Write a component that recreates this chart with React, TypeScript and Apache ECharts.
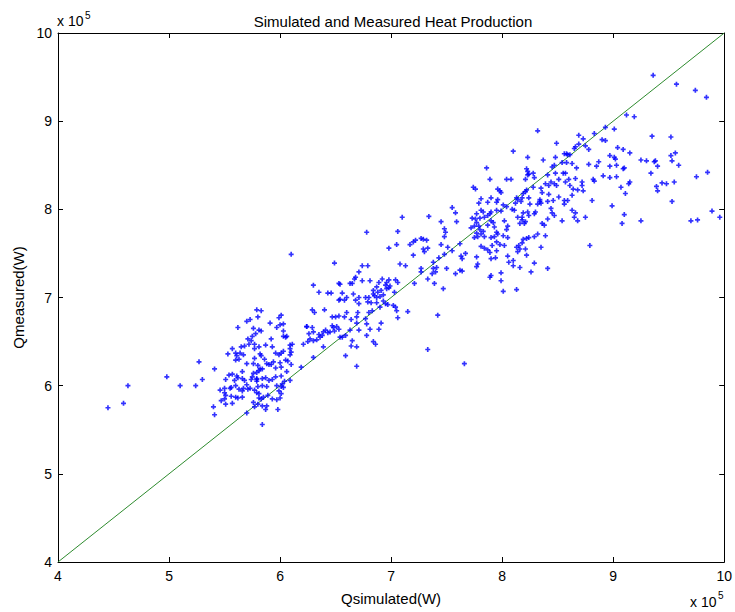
import React, { useEffect, useRef } from "react";
import * as echarts from "echarts";

// Values in units of 1e5 W: [Qsimulated, Qmeasured]
const lowCluster: number[][] = [
  [4.45,5.75],[4.59,5.80],[4.63,6.00],[4.98,6.10],[5.10,6.00],[5.24,6.00],[5.27,6.27],[5.30,6.07],[5.41,6.19],[5.40,5.76],[5.41,5.67],
  [5.79,6.86],[5.83,6.85],[5.80,6.78],[5.99,6.77],[6.01,6.80],[5.70,6.73],[5.73,6.75],[5.62,6.66],[5.76,6.65],[5.91,6.71],
  [5.97,6.66],[6.00,6.69],[6.03,6.70],[6.24,6.67],[5.81,6.63],[5.83,6.62],[5.78,6.59],[5.75,6.56],[6.03,6.62],[6.03,6.56],
  [6.05,6.55],[6.06,6.56],[5.71,6.53],[5.74,6.51],[5.92,6.53],[5.72,6.47],[5.77,6.47],[5.68,6.45],[5.77,6.42],[5.65,6.44],
  [5.57,6.42],[5.81,6.44],[5.87,6.46],[5.93,6.44],[6.09,6.46],[6.11,6.47],[6.21,6.47],[6.25,6.50],[5.53,6.36],[5.60,6.37],
  [5.64,6.37],[5.61,6.34],[5.67,6.35],[5.82,6.36],[5.83,6.34],[5.96,6.37],[5.99,6.35],[6.03,6.39],[6.01,6.37],[6.09,6.42],
  [6.10,6.38],[6.09,6.35],[5.60,6.29],[5.63,6.30],[5.77,6.31],[5.86,6.30],[5.70,6.25],[5.76,6.25],[5.80,6.23],[5.88,6.25],
  [5.90,6.24],[5.92,6.24],[6.05,6.29],[6.07,6.28],[5.94,6.27],[6.00,6.26],[6.10,6.24],[6.19,6.21],[5.82,6.19],[5.84,6.19],
  [5.81,6.17],[5.79,6.15],[5.66,6.16],[5.76,6.14],[6.01,6.21],[5.96,6.20],[6.06,6.16],[5.57,6.13],[5.61,6.11],[5.54,6.12],
  [5.51,6.07],[5.59,6.06],[5.62,6.09],[5.66,6.08],[5.68,6.06],[5.75,6.10],[5.74,6.07],[5.79,6.08],[5.79,6.07],[5.84,6.08],
  [5.87,6.09],[5.90,6.06],[5.93,6.07],[5.96,6.10],[6.01,6.11],[6.04,6.05],[6.09,6.06],[5.79,6.05],[5.70,6.01],[5.60,6.00],
  [5.56,5.98],[5.67,5.97],[5.71,5.96],[5.73,5.97],[5.80,5.99],[5.84,6.00],[5.88,5.99],[5.97,6.00],[6.01,5.99],[6.02,6.02],
  [5.46,5.95],[5.50,5.97],[5.50,5.92],[5.55,5.97],[5.63,5.96],[5.66,5.94],[5.77,5.95],[5.79,5.92],[5.81,5.91],[5.89,5.89],
  [5.99,5.94],[6.03,5.98],[5.51,5.89],[5.50,5.85],[5.56,5.88],[5.60,5.87],[5.62,5.86],[5.66,5.87],[5.47,5.83],[5.51,5.79],
  [5.57,5.80],[5.76,5.81],[5.81,5.86],[5.83,5.85],[5.85,5.87],[5.93,5.85],[5.97,5.84],[6.00,5.86],[6.01,5.91],[5.77,5.76],
  [5.80,5.79],[5.84,5.77],[5.88,5.77],[5.87,5.73],[5.98,5.73],[5.70,5.69],[5.84,5.56]
];

const midCluster: number[][] = [
  [6.10,7.49],[6.78,7.74],[7.10,7.91],[7.34,7.92],[7.55,8.02],[7.58,7.96],[7.59,7.86],[7.45,7.86],[7.48,7.78],[7.49,7.74],
  [7.48,7.69],[7.06,7.75],[7.05,7.60],[6.98,7.56],[7.17,7.60],[7.20,7.63],[7.22,7.65],[7.27,7.67],[7.29,7.66],[7.32,7.65],
  [7.29,7.55],[7.33,7.56],[7.30,7.52],[7.20,7.48],[7.45,7.60],[7.51,7.57],[7.48,7.49],[7.43,7.45],[7.38,7.40],[7.55,7.53],
  [7.62,7.61],[7.64,7.44],[7.63,7.47],[7.67,7.50],[7.08,7.38],[7.13,7.36],[7.27,7.33],[7.27,7.29],[7.38,7.33],[7.41,7.34],
  [7.40,7.29],[7.37,7.27],[7.33,7.21],[7.50,7.33],[7.58,7.27],[7.62,7.31],[7.64,7.30],[7.21,7.16],[7.39,7.16],[7.47,7.10],
  [6.49,7.39],[6.74,7.36],[6.79,7.36],[6.71,7.29],[6.68,7.23],[6.67,7.21],[6.65,7.16],[6.63,7.16],[6.53,7.16],[6.54,7.15],
  [6.30,7.14],[6.74,7.19],[6.81,7.19],[6.92,7.21],[6.98,7.20],[6.96,7.17],[6.95,7.14],[6.89,7.17],[6.87,7.12],[6.88,7.06],
  [6.91,7.08],[6.84,7.08],[6.84,7.04],[6.85,7.02],[6.87,7.00],[6.90,7.01],[6.93,7.03],[6.96,7.10],[6.98,7.11],[6.99,7.13],
  [7.04,7.20],[7.06,7.17],[7.03,7.06],[6.35,7.06],[6.43,7.05],[6.46,7.05],[6.56,7.05],[6.54,6.98],[6.53,6.97],[6.58,6.97],
  [6.60,7.00],[6.66,7.04],[6.71,7.00],[6.68,6.97],[6.71,6.93],[6.77,7.00],[6.80,7.00],[6.79,6.95],[6.82,6.94],[6.87,6.94],
  [6.93,6.96],[6.95,6.93],[6.97,6.92],[7.02,6.91],[7.04,6.89],[7.05,6.85],[7.15,6.84],[7.06,6.77],[6.90,6.89],[6.83,6.85],
  [6.80,6.83],[6.77,6.76],[6.70,6.83],[6.69,6.78],[6.64,6.75],[6.60,6.83],[6.58,6.78],[6.53,6.79],[6.50,6.78],[6.47,6.78],
  [6.40,6.86],[6.29,6.86],[6.31,6.83],[6.24,6.67],[6.29,6.66],[6.30,6.61],[6.26,6.59],[6.27,6.53],[6.30,6.51],[6.38,6.57],
  [6.39,6.61],[6.41,6.63],[6.43,6.60],[6.45,6.61],[6.35,6.58],[6.36,6.55],[6.33,6.52],[6.47,6.68],[6.48,6.66],[6.51,6.67],
  [6.53,6.64],[6.49,6.62],[6.54,6.55],[6.56,6.55],[6.59,6.57],[6.63,6.63],[6.69,6.71],[6.71,6.63],[6.78,6.70],[6.81,6.64],
  [6.89,6.64],[6.91,6.71],[6.78,6.57],[6.84,6.50],[6.86,6.47],[6.65,6.51],[6.64,6.45],[6.69,6.44],[6.59,6.34],[6.69,6.22],
  [6.39,6.44],[6.30,6.32],[7.42,6.80],[7.33,6.41],[7.66,6.25]
];

const highCluster: number[][] = [
  [8.32,8.89],[8.10,8.66],[8.23,8.59],[8.37,8.56],[8.49,8.75],[8.69,8.84],[8.73,8.80],[8.83,8.86],[8.93,8.93],[8.90,8.79],
  [8.93,8.78],[8.65,8.69],[8.66,8.71],[8.69,8.74],[8.78,8.68],[8.75,8.72],[8.56,8.63],[8.58,8.63],[8.59,8.62],[8.61,8.62],
  [8.48,8.59],[8.54,8.53],[8.47,8.50],[8.45,8.48],[8.58,8.53],[8.63,8.52],[8.41,8.39],[8.48,8.41],[8.55,8.41],[8.57,8.41],
  [8.67,8.47],[8.78,8.51],[8.85,8.49],[8.87,8.54],[8.91,8.38],[8.82,8.34],[8.83,8.32],[8.72,8.31],[8.72,8.27],[8.66,8.35],
  [8.60,8.34],[8.57,8.31],[8.51,8.34],[8.47,8.29],[8.49,8.27],[8.44,8.31],[8.42,8.27],[8.68,8.22],[8.73,8.21],[8.81,8.10],
  [8.63,8.16],[8.59,8.10],[8.56,8.10],[8.56,8.06],[8.51,8.14],[8.36,8.19],[8.35,8.24],[8.28,8.25],[8.22,8.22],[8.19,8.18],
  [8.21,8.20],[8.24,8.40],[8.23,8.39],[8.23,8.43],[8.22,8.46],[8.21,8.34],[8.28,8.41],[8.29,8.36],[8.39,8.29],[8.42,8.17],
  [8.34,8.11],[8.34,8.09],[8.32,8.06],[8.41,8.09],[8.44,8.01],[8.45,7.96],[8.47,7.93],[8.41,7.89],[8.35,8.07],[8.30,7.97],
  [8.29,7.95],[8.24,7.93],[8.23,7.97],[8.19,7.96],[8.18,7.91],[8.21,7.86],[8.20,7.84],[8.18,7.88],[8.16,7.84],[8.14,7.91],
  [8.11,7.99],[8.09,8.00],[8.04,8.03],[8.14,8.11],[8.17,8.09],[8.13,8.13],[8.18,8.13],[8.12,8.07],[8.24,8.13],[8.25,8.06],
  [7.98,8.21],[7.99,8.19],[7.96,8.23],[8.04,8.34],[8.08,8.34],[7.89,8.34],[7.86,8.47],[7.74,8.25],[7.76,8.23],[7.81,8.12],
  [7.79,8.07],[7.90,8.13],[7.87,8.08],[7.96,8.11],[7.95,8.08],[8.01,8.05],[7.99,7.98],[7.95,7.99],[7.90,7.97],[7.89,7.95],
  [7.87,7.93],[7.84,7.91],[7.81,7.99],[7.83,7.97],[7.77,7.95],[7.76,7.89],[7.80,7.90],[7.73,7.90],[7.77,7.85],[7.75,7.81],
  [7.72,7.79],[7.79,7.81],[7.80,7.77],[7.83,7.75],[7.81,7.72],[7.78,7.69],[7.77,7.73],[7.84,7.69],[7.75,7.68],[7.87,7.82],
  [7.90,7.87],[7.92,7.85],[7.93,7.80],[7.95,7.74],[7.96,7.72],[7.93,7.69],[7.90,7.68],[8.02,7.87],[8.05,7.81],[8.04,7.77],
  [8.01,7.70],[8.05,7.68],[7.95,7.63],[7.98,7.60],[8.02,7.59],[7.91,7.59],[7.87,7.54],[7.84,7.56],[7.81,7.58],[7.89,7.51],
  [7.95,7.53],[7.94,7.45],[7.90,7.44],[7.77,7.46],[7.78,7.38],[7.77,7.35],[8.05,7.47],[8.06,7.40],[8.10,7.42],[8.10,7.36],
  [8.15,7.59],[8.16,7.55],[8.14,7.52],[8.18,7.62],[8.19,7.66],[8.22,7.67],[8.24,7.68],[8.29,7.69],[8.32,7.72],[8.36,7.84],
  [8.38,7.82],[8.39,7.70],[8.21,7.55],[8.22,7.48],[8.13,7.57],[8.29,7.39],[8.16,7.34],[8.26,7.29],[8.41,7.33],[8.35,7.57],
  [8.46,8.10],[8.54,7.87],[8.65,7.91],[8.68,7.87],[8.75,7.91],[8.63,7.99],[8.66,7.96],[8.79,7.59],[8.61,8.27],[8.64,8.23],
  [7.90,7.25],[7.89,7.23],[7.99,7.28],[7.99,7.19],[8.01,7.07],[8.13,7.09]
];

const edgeCluster: number[][] = [
  [9.36,9.52],[9.57,9.42],[9.74,9.35],[9.84,9.27],[9.12,9.07],[9.19,9.05],[9.01,8.91],[9.35,8.83],[9.52,8.82],[9.04,8.70],
  [9.09,8.68],[9.15,8.64],[8.97,8.61],[9.01,8.59],[9.02,8.57],[8.97,8.49],[9.03,8.50],[9.10,8.47],[9.09,8.46],[9.25,8.56],
  [9.30,8.55],[9.37,8.54],[9.38,8.55],[9.40,8.49],[9.52,8.61],[9.53,8.55],[9.56,8.64],[9.59,8.50],[9.34,8.41],[8.97,8.36],
  [9.03,8.37],[9.07,8.25],[9.11,8.18],[9.14,8.29],[9.15,8.31],[9.39,8.26],[9.40,8.21],[9.44,8.30],[9.48,8.29],[9.55,8.31],
  [9.75,8.37],[9.85,8.42],[9.53,8.09],[8.99,8.04],[9.10,7.94],[9.08,7.84],[9.25,7.87],[9.70,7.87],[9.76,7.88],[9.89,7.98],
  [9.96,7.91]
];

const diagonal: number[][] = [[4, 4], [10, 10]];

const titleText = "Simulated and Measured Heat Production";
const xName = "Qsimulated(W)";
const yName = "Qmeasured(W)";

const plusSymbol = "path://M1,0H2V1H3V2H2V3H1V2H0V1H1Z";
const FONT = "'Liberation Sans', Arial, Helvetica, sans-serif";

export default function App() {
  const ref = useRef<HTMLDivElement>(null);

  useEffect(() => {
    if (!ref.current) return;
    const chart = echarts.init(ref.current, null, { renderer: "svg" });
    const points = [...lowCluster, ...midCluster, ...highCluster, ...edgeCluster];
    const axisCommon = {
      type: "value" as const,
      min: 4,
      max: 10,
      interval: 1,
      splitLine: { show: false },
      axisLine: { show: true, onZero: false, lineStyle: { color: "#000", width: 1 } },
      axisTick: { show: true, inside: true, length: 5, lineStyle: { color: "#000" } },
    };
    chart.setOption({
      animation: false,
      backgroundColor: "#fff",
      title: {
        text: titleText,
        left: 388,
        top: 9,
        textAlign: "center",
        textStyle: { fontFamily: FONT, fontSize: 15, fontWeight: "normal", color: "#000" },
      },
      grid: { left: 58, right: 8, top: 33, bottom: 50 },
      xAxis: [
        {
          ...axisCommon,
          position: "bottom",
          name: xName,
          nameLocation: "middle",
          nameGap: 29,
          nameTextStyle: { fontFamily: FONT, fontSize: 15, color: "#000" },
          axisLabel: { fontFamily: FONT, fontSize: 14, color: "#000", margin: 7 },
        },
        { ...axisCommon, position: "top", axisLabel: { show: false } },
      ],
      yAxis: [
        {
          ...axisCommon,
          position: "left",
          name: yName,
          nameLocation: "middle",
          nameGap: 29,
          nameTextStyle: { fontFamily: FONT, fontSize: 15, color: "#000" },
          axisLabel: { fontFamily: FONT, fontSize: 14, color: "#000", margin: 6 },
        },
        { ...axisCommon, position: "right", axisLabel: { show: false } },
      ],
      graphic: [
        { type: "text", left: 57, top: 14, style: { text: "x 10", fontFamily: FONT, fontSize: 14, fill: "#000" } },
        { type: "text", left: 85, top: 10, style: { text: "5", fontFamily: FONT, fontSize: 10, fill: "#000" } },
        { type: "text", left: 690, top: 595, style: { text: "x 10", fontFamily: FONT, fontSize: 14, fill: "#000" } },
        { type: "text", left: 718, top: 590, style: { text: "5", fontFamily: FONT, fontSize: 10, fill: "#000" } },
      ],
      series: [
        {
          type: "line",
          data: diagonal,
          symbol: "none",
          lineStyle: { color: "#2e8b2e", width: 1 },
          silent: true,
          z: 1,
        },
        {
          type: "scatter",
          data: points,
          symbol: plusSymbol,
          symbolSize: 5,
          itemStyle: { color: "#0000ff" },
          z: 2,
        },
      ],
    });
    return () => chart.dispose();
  }, []);

  return (
    <div
      ref={ref}
      style={{ position: "fixed", left: 0, top: 0, width: 735, height: 612, background: "#fff" }}
    />
  );
}
